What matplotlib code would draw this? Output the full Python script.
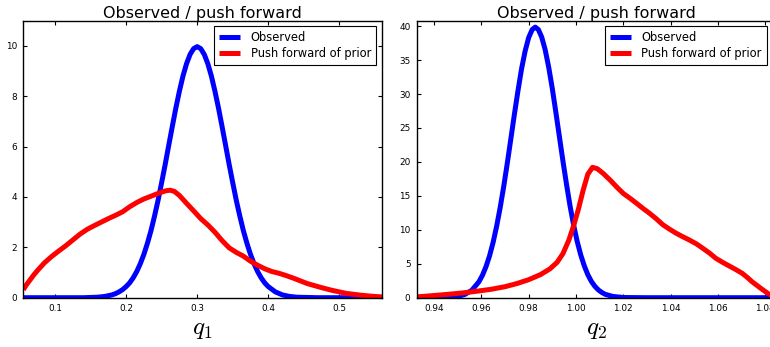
import matplotlib
matplotlib.use("Agg")
import matplotlib.pyplot as plt

plt.rcParams.update({
    "font.family": "DejaVu Sans",
    "mathtext.fontset": "cm",
    "xtick.direction": "in",
    "ytick.direction": "in",
    "xtick.top": True,
    "ytick.right": True,
    "xtick.major.size": 2.8,
    "ytick.major.size": 2.8,
    "xtick.minor.visible": False,
    "ytick.minor.visible": False,
    "axes.linewidth": 1.0,
    "axes.edgecolor": "black",
    "legend.fancybox": False,
    "legend.edgecolor": "black",
    "legend.framealpha": 1.0,
})

# ---- q1 densities ----
q1_obs_x = [0.0554, 0.10, 0.14, 0.16, 0.17,
            0.18, 0.185, 0.19, 0.195, 0.20,
            0.205, 0.21, 0.215, 0.22, 0.225, 0.23, 0.235, 0.24, 0.245, 0.25,
            0.255, 0.26, 0.265, 0.27, 0.275, 0.28, 0.285, 0.29, 0.295, 0.30,
            0.305, 0.31, 0.315, 0.32, 0.325, 0.33, 0.335, 0.34, 0.345, 0.35,
            0.355, 0.36, 0.365, 0.37, 0.375, 0.38, 0.385, 0.39, 0.395, 0.40,
            0.41, 0.42, 0.43, 0.44, 0.47, 0.56]
q1_obs_y = [0.0, 0.0, 0.0, 0.02, 0.05,
            0.11, 0.16, 0.23, 0.32, 0.44,
            0.59, 0.79, 1.04, 1.35, 1.72, 2.16, 2.66, 3.24, 3.87, 4.57,
            5.29, 6.05, 6.80, 7.53, 8.20, 8.80, 9.29, 9.66, 9.89, 9.97,
            9.89, 9.66, 9.29, 8.80, 8.20, 7.53, 6.80, 6.05, 5.29, 4.57,
            3.87, 3.24, 2.66, 2.16, 1.72, 1.35, 1.04, 0.79, 0.59, 0.44,
            0.23, 0.11, 0.05, 0.02, 0.0, 0.0]

q1_push_x = [0.0554, 0.060, 0.065, 0.070, 0.075, 0.085, 0.095, 0.105, 0.115,
             0.125, 0.135, 0.145, 0.155, 0.165, 0.175, 0.185, 0.195, 0.205,
             0.215, 0.225, 0.235, 0.245, 0.255, 0.262, 0.268, 0.275, 0.285,
             0.295, 0.305, 0.315, 0.325, 0.335, 0.345, 0.355, 0.365, 0.375,
             0.385, 0.395, 0.405, 0.415, 0.425, 0.435, 0.445, 0.455, 0.465,
             0.475, 0.49, 0.51, 0.53, 0.545, 0.56]
q1_push_y = [0.32, 0.52, 0.71, 0.90, 1.07, 1.38, 1.63, 1.85, 2.06,
             2.29, 2.52, 2.71, 2.86, 3.00, 3.14, 3.27, 3.41, 3.61,
             3.78, 3.92, 4.03, 4.14, 4.24, 4.27, 4.22, 4.06, 3.75,
             3.45, 3.14, 2.89, 2.60, 2.27, 1.98, 1.80, 1.65, 1.45,
             1.29, 1.15, 1.04, 0.97, 0.88, 0.78, 0.67, 0.56, 0.48,
             0.40, 0.29, 0.17, 0.10, 0.06, 0.03]

# ---- q2 densities ----
q2_obs_x = [0.9327, 0.945, 0.950, 0.953, 0.956,
            0.959, 0.9605, 0.962, 0.9635, 0.965,
            0.9665, 0.968, 0.9695, 0.971, 0.9725,
            0.974, 0.9755, 0.977, 0.9785, 0.980,
            0.9815, 0.9828, 0.9841, 0.9855, 0.987,
            0.9885, 0.990, 0.9915, 0.993, 0.9945,
            0.996, 0.9975, 0.999, 1.0005, 1.002,
            1.0035, 1.005, 1.0065, 1.008, 1.0095,
            1.011, 1.0125, 1.0155, 1.020, 1.030,
            1.0843]
q2_obs_y = [0.0, 0.03, 0.18, 0.47, 1.10,
            2.35, 3.32, 4.59, 6.19, 8.17,
            10.56, 13.33, 16.45, 19.87, 23.45,
            27.06, 30.5, 33.7, 36.3, 38.3,
            39.5, 39.85, 39.5, 38.4, 36.5,
            33.9, 30.8, 27.3, 23.7, 20.1,
            16.7, 13.5, 10.7, 8.3, 6.31,
            4.7, 3.39, 2.4, 1.67, 1.13,
            0.75, 0.48, 0.19, 0.03, 0.0,
            0.0]

q2_push_x = [0.9327, 0.940, 0.946, 0.952, 0.958, 0.964, 0.970, 0.975, 0.980,
             0.985, 0.989, 0.992, 0.9945, 0.997, 0.999, 1.001, 1.003, 1.005,
             1.007, 1.009, 1.0115, 1.0145, 1.0175, 1.020, 1.023, 1.0256,
             1.0285, 1.0312, 1.034, 1.0367, 1.0395, 1.0423, 1.045, 1.0479,
             1.051, 1.0535, 1.0565, 1.0591, 1.062, 1.0646, 1.0675, 1.0702,
             1.0725, 1.0744, 1.0765, 1.0786, 1.0814, 1.0843]
q2_push_y = [0.12, 0.32, 0.50, 0.70, 0.95, 1.23, 1.62, 2.08, 2.65,
             3.40, 4.25, 5.20, 6.50, 8.50, 10.6, 13.0, 15.8, 18.2,
             19.2, 19.0, 18.3, 17.3, 16.2, 15.35, 14.6, 13.9,
             13.1, 12.4, 11.6, 10.75, 10.1, 9.5, 9.0, 8.5,
             7.9, 7.3, 6.55, 5.8, 5.2, 4.7, 4.15, 3.6,
             2.95, 2.35, 1.8, 1.25, 0.55, 0.12]

q1_ticks = [0.1, 0.2, 0.3, 0.4, 0.5]
q1_ticklabels = ["0.1", "0.2", "0.3", "0.4", "0.5"]
q1_yticks = [0, 2, 4, 6, 8, 10]
q2_ticks = [0.94, 0.96, 0.98, 1.00, 1.02, 1.04, 1.06, 1.08]
q2_ticklabels = ["0.94", "0.96", "0.98", "1.00", "1.02", "1.04", "1.06", "1.08"]
q2_yticks = [0, 5, 10, 15, 20, 25, 30, 35, 40]

series_labels = ["Observed", "Push forward of prior"]
title_text = "Observed / push forward"

W, H = 770, 347
fig = plt.figure(figsize=(W / 100, H / 100), dpi=100, facecolor="white")

def px_axes(x0, x1, y0, y1):
    return fig.add_axes([x0 / W, 1 - y1 / H, (x1 - x0) / W, (y1 - y0) / H])

ax1 = px_axes(23.3, 382.0, 20.7, 297.7)
ax2 = px_axes(416.7, 775.5, 20.7, 297.7)

panels = [
    (ax1, q1_obs_x, q1_obs_y, q1_push_x, q1_push_y, (0.0554, 0.560), (0, 11.0),
     q1_ticks, q1_ticklabels, q1_yticks, r"$q_1$", (0.9833, 0.981)),
    (ax2, q2_obs_x, q2_obs_y, q2_push_x, q2_push_y, (0.9327, 1.0843), (0, 40.8),
     q2_ticks, q2_ticklabels, q2_yticks, r"$q_2$", (0.9755, 0.981)),
]

for ax, ox, oy, px, py, xl, yl, xt, xtl, yt, xlab, anchor in panels:
    ax.plot(ox, oy, color="#0000ff", lw=3.6, label=series_labels[0],
            solid_capstyle="butt", solid_joinstyle="round")
    ax.plot(px, py, color="#ff0000", lw=3.6, label=series_labels[1],
            solid_capstyle="butt", solid_joinstyle="round")
    ax.set_xlim(*xl)
    ax.set_ylim(*yl)
    ax.set_xticks(xt)
    ax.set_xticklabels(xtl)
    ax.set_yticks(yt)
    ax.tick_params(labelsize=6.4, pad=4.5, colors="black", width=0.8)
    ax.set_title(title_text, fontsize=11.5, pad=1.5)
    ax.set_xlabel(xlab, fontsize=18, labelpad=3)
    leg = ax.legend(loc="upper right", bbox_to_anchor=anchor, borderaxespad=0,
                    fontsize=8.3, handlelength=1.8, handletextpad=0.95,
                    borderpad=0.42, labelspacing=0.25)
    leg.get_frame().set_linewidth(0.8)

fig.savefig("out.png", dpi=100, facecolor="white")
